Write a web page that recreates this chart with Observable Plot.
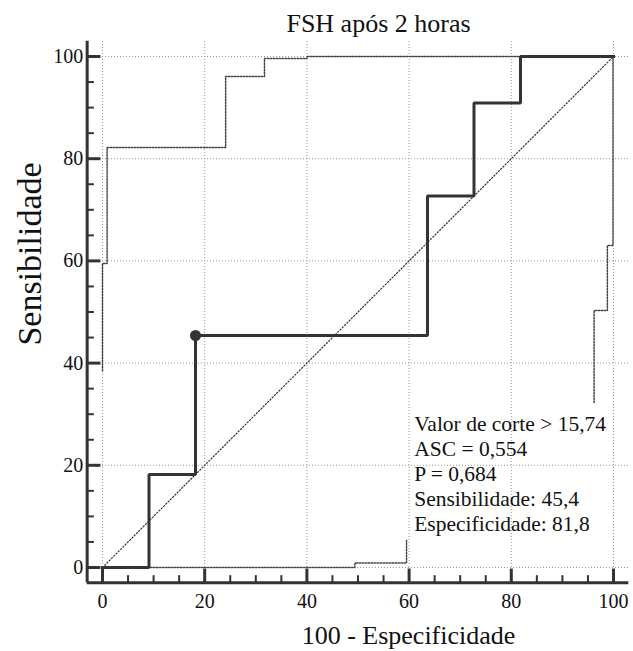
<!DOCTYPE html>
<html>
<head>
<meta charset="utf-8">
<script src="https://cdn.jsdelivr.net/npm/d3@7"></script>
<script src="https://cdn.jsdelivr.net/npm/@observablehq/plot@0.6"></script>
<style>
  html, body { margin: 0; padding: 0; background: #fff; }
  svg { display: block; }
</style>
</head>
<body>
<div id="chart"></div>
<script>
// ---- Data ----
const title = "FSH após 2 horas";
const xLabel = "100 - Especificidade";
const yLabel = "Sensibilidade";

// ROC curve (100 - specificity, sensitivity)
const rocX = [0, 9.1, 9.1, 18.2, 18.2, 63.6, 63.6, 72.7, 72.7, 81.8, 81.8, 100];
const rocY = [0, 0, 18.2, 18.2, 45.4, 45.4, 72.7, 72.7, 90.9, 90.9, 100, 100];

// Optimal cut-off point
const cutX = [18.2];
const cutY = [45.4];

// Upper 95% confidence band
const upperX = [0, 0, 0.9, 0.9, 24.1, 24.1, 31.7, 31.7, 40, 40, 100];
const upperY = [38.5, 59.5, 59.5, 82.2, 82.2, 96.1, 96.1, 99.6, 99.6, 100, 100];

// Lower 95% confidence band (two visible pieces)
const lowerSeg = [1, 1, 1, 1, 1, 2, 2, 2, 2, 2, 2, 2];
const lowerX = [0, 49.4, 49.4, 59.5, 59.5, 96.2, 96.2, 98.8, 98.8, 99.9, 99.9, 100];
const lowerY = [0, 0, 0.9, 0.9, 5.3, 32.3, 50.3, 50.3, 63, 63, 100, 100];

// Diagonal reference line
const diagX = [0, 100];
const diagY = [0, 100];

// Axes ticks
const majorTicks = [0, 20, 40, 60, 80, 100];
const minorTicks = [5, 10, 15, 25, 30, 35, 45, 50, 55, 65, 70, 75, 85, 90, 95];

// Statistics box
const statsLines = [
  "Valor de corte > 15,74",
  "ASC = 0,554",
  "P = 0,684",
  "Sensibilidade: 45,4",
  "Especificidade: 81,8"
];

// ---- Build tables ----
const roc = rocX.map((x, i) => ({x, y: rocY[i]}));
const upper = upperX.map((x, i) => ({x, y: upperY[i]}));
const lower = lowerX.map((x, i) => ({x, y: lowerY[i], seg: lowerSeg[i]}));
const diag = diagX.map((x, i) => ({x, y: diagY[i]}));
const cut = cutX.map((x, i) => ({x, y: cutY[i]}));

const AX = -3;      // offset axis position (data units)
const AXEND = 103;  // axis extent
const dark = "#333";
const font = "'Liberation Serif', 'Times New Roman', serif";

const chart = Plot.plot({
  width: 633,
  height: 651,
  marginLeft: 102,
  marginRight: 20,
  marginTop: 56,
  marginBottom: 84,
  x: {domain: [0, 100], axis: null},
  y: {domain: [0, 100], axis: null},
  style: {fontFamily: font, background: "#fff", color: "#111"},
  marks: [
    // grid
    Plot.ruleX(majorTicks, {x: d => d, y1: 0, y2: AXEND, stroke: "#999", strokeWidth: 1, strokeDasharray: "1,2"}),
    Plot.ruleY(majorTicks, {y: d => d, x1: 0, x2: AXEND, stroke: "#999", strokeWidth: 1, strokeDasharray: "1,2"}),
    // diagonal
    Plot.line(diag, {x: "x", y: "y", stroke: "#333", strokeWidth: 1.2, strokeDasharray: "1.2,2"}),
    // confidence bands
    Plot.line(upper, {x: "x", y: "y", stroke: "#444", strokeWidth: 1.5, strokeDasharray: "1.5,1.5"}),
    Plot.line(lower, {x: "x", y: "y", z: "seg", stroke: "#444", strokeWidth: 1.5, strokeDasharray: "1.5,1.5"}),
    // ROC curve
    Plot.line(roc, {x: "x", y: "y", stroke: dark, strokeWidth: 3, strokeLinejoin: "miter", strokeLinecap: "square"}),
    Plot.dot(cut, {x: "x", y: "y", r: 5.5, fill: dark, stroke: "none"}),
    // axis lines
    Plot.ruleX([AX], {x: d => d, y1: AX, y2: AXEND, stroke: dark, strokeWidth: 3}),
    Plot.ruleY([AX], {y: d => d, x1: AX, x2: AXEND, stroke: dark, strokeWidth: 3}),
    // ticks
    Plot.ruleY(majorTicks, {y: d => d, x1: AX, x2: -0.3, stroke: dark, strokeWidth: 3}),
    Plot.ruleY(minorTicks, {y: d => d, x1: AX, x2: -1.6, stroke: dark, strokeWidth: 2}),
    Plot.ruleX(majorTicks, {x: d => d, y1: AX, y2: -0.3, stroke: dark, strokeWidth: 3}),
    Plot.ruleX(minorTicks, {x: d => d, y1: AX, y2: -1.6, stroke: dark, strokeWidth: 2}),
    // tick labels
    Plot.text(majorTicks, {x: AX, y: d => d, text: d => String(d), dx: -4, textAnchor: "end", fontSize: 20, fill: "#111"}),
    Plot.text(majorTicks, {x: d => d, y: AX, text: d => String(d), dy: 19, fontSize: 20, fill: "#111"}),
    // stats text
    Plot.text([statsLines.join("\n")], {x: 61, y: 30.1, text: d => d, textAnchor: "start", lineAnchor: "top", lineHeight: 1.163, fontSize: 21.5, fill: "#111"}),
    // title
    Plot.text([title], {frameAnchor: "top", text: d => d, lineAnchor: "middle", dx: 20.5, dy: -33, fontSize: 26, fill: "#111"}),
    // axis titles
    Plot.text([xLabel], {frameAnchor: "bottom", text: d => d, lineAnchor: "middle", dx: 50.5, dy: 68, fontSize: 26, fill: "#111"}),
    Plot.text([yLabel], {frameAnchor: "left", text: d => d, textAnchor: "middle", lineAnchor: "middle", rotate: -90, dx: -72, dy: -58, fontSize: 34, fill: "#111"})
  ]
});

document.getElementById("chart").appendChild(chart);
</script>
</body>
</html>
